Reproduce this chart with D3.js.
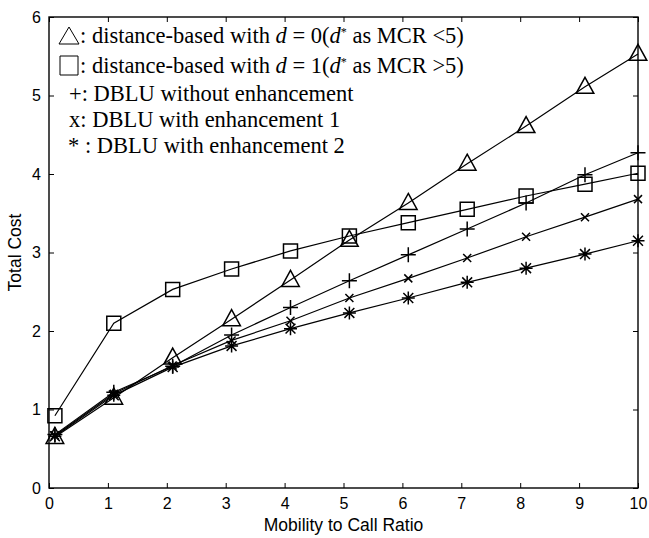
<!DOCTYPE html>
<html><head><meta charset="utf-8">
<script src="https://cdn.jsdelivr.net/npm/d3@7"></script>
<style>
body{margin:0;background:#fff;}
svg{display:block;}
</style>
</head><body>
<svg id="chart" width="649" height="538"></svg>
<script>
// ---- data ----
const xValues = [0.1, 1.1, 2.1, 3.1, 4.1, 5.1, 6.1, 7.1, 8.1, 9.1, 10];
const distanceD0 = [0.65, 1.15, 1.66, 2.15, 2.65, 3.16, 3.63, 4.13, 4.61, 5.11, 5.53];
const distanceD1 = [0.92, 2.10, 2.53, 2.79, 3.02, 3.21, 3.38, 3.55, 3.72, 3.87, 4.01];
const dbluNoEnh = [0.68, 1.22, 1.55, 1.95, 2.30, 2.64, 2.97, 3.30, 3.63, 3.99, 4.27];
const dbluEnh1 = [0.67, 1.20, 1.56, 1.88, 2.13, 2.42, 2.67, 2.93, 3.20, 3.45, 3.68];
const dbluEnh2 = [0.66, 1.18, 1.54, 1.81, 2.03, 2.23, 2.42, 2.62, 2.80, 2.98, 3.15];
const xTicks = [0,1,2,3,4,5,6,7,8,9,10];
const yTicks = [0,1,2,3,4,5,6];
const xLabel = "Mobility to Call Ratio";
const yLabel = "Total Cost";

const SANS = "'Liberation Sans', Arial, Helvetica, sans-serif";
const SERIF = "'Liberation Serif', 'Times New Roman', serif";

const svg = d3.select("#chart");
const pL = 49, pR = 638, pT = 17, pB = 488;
const x = d3.scaleLinear().domain([0,10]).range([pL,pR]);
const y = d3.scaleLinear().domain([0,6]).range([pB,pT]);

// frame
svg.append("rect").attr("x",pL).attr("y",pT).attr("width",pR-pL).attr("height",pB-pT)
  .attr("fill","none").attr("stroke","#000").attr("stroke-width",1.4);

// axes (ticks inward)
const axB = svg.append("g").attr("transform",`translate(0,${pB})`)
  .call(d3.axisBottom(x).tickValues(xTicks).tickSize(-5).tickPadding(10).tickFormat(d3.format("d")));
const axT = svg.append("g").attr("transform",`translate(0,${pT})`)
  .call(d3.axisTop(x).tickValues(xTicks).tickSize(-5).tickFormat(""));
const axL = svg.append("g").attr("transform",`translate(${pL},0)`)
  .call(d3.axisLeft(y).tickValues(yTicks).tickSize(-5).tickPadding(8).tickFormat(d3.format("d")));
const axR = svg.append("g").attr("transform",`translate(${pR},0)`)
  .call(d3.axisRight(y).tickValues(yTicks).tickSize(-5).tickFormat(""));
[axB,axT,axL,axR].forEach(a=>{
  a.select(".domain").remove();
  a.attr("font-size",16).attr("font-family",SANS);
  a.selectAll(".tick line").attr("stroke","#000").attr("stroke-width",1);
  a.selectAll(".tick text").attr("fill","#000");
});

// axis titles
svg.append("text").attr("x",(pL+pR)/2).attr("y",531)
  .attr("font-family",SANS).attr("font-size",17.5)
  .attr("text-anchor","middle").text(xLabel);
svg.append("text")
  .attr("font-family",SANS).attr("font-size",17.5)
  .attr("transform",`translate(21,${(pT+pB)/2}) rotate(-90)`)
  .attr("text-anchor","middle").text(yLabel);

// marker shapes
const markers = {
  triangle: (s)=>`M0,${-s*0.6}L${s*0.55},${s*0.4}L${-s*0.55},${s*0.4}Z`,
  square: (s)=>`M${-s/2},${-s/2}h${s}v${s}h${-s}Z`,
  plus: (s)=>`M${-s/2},0H${s/2}M0,${-s/2}V${s/2}`,
  cross: (s)=>`M${-s/2},${-s/2}L${s/2},${s/2}M${-s/2},${s/2}L${s/2},${-s/2}`,
  star: (s)=>`M${-s/2},0H${s/2}M0,${-s/2}V${s/2}M${-s*0.38},${-s*0.38}L${s*0.38},${s*0.38}M${-s*0.38},${s*0.38}L${s*0.38},${-s*0.38}`
};
const series = [
  {vals: distanceD0, marker:"triangle", size:16},
  {vals: distanceD1, marker:"square", size:14},
  {vals: dbluNoEnh, marker:"plus", size:15},
  {vals: dbluEnh1, marker:"cross", size:8},
  {vals: dbluEnh2, marker:"star", size:13}
];
const line = d3.line().x((d,i)=>x(xValues[i])).y(d=>y(d));
series.forEach(s=>{
  svg.append("path").attr("d",line(s.vals)).attr("fill","none").attr("stroke","#000").attr("stroke-width",1.2);
  svg.append("g").selectAll("path").data(s.vals).join("path")
    .attr("transform",(d,i)=>`translate(${x(xValues[i])},${y(d)})`)
    .attr("d",markers[s.marker](s.size))
    .attr("fill","none").attr("stroke","#000").attr("stroke-width",1.5);
});

// legend
const lg = svg.append("g");
lg.append("path").attr("d",`M69,27L79,44L59,44Z`).attr("fill","none").attr("stroke","#000").attr("stroke-width",1);
lg.append("path").attr("d",`M60,56h18v19h-18Z`).attr("fill","none").attr("stroke","#000").attr("stroke-width",1);
function legendLine(xp, yp, parts){
  const t = lg.append("text").attr("x",xp).attr("y",yp)
    .attr("font-family",SERIF).attr("font-size",22.5).attr("fill","#000");
  parts.forEach(p=>{
    const ts = t.append("tspan").text(p.t);
    if(p.i) ts.attr("font-style","italic");
    if(p.sup) ts.attr("baseline-shift","super").attr("font-size","12px");
  });
}
legendLine(80,43,[{t:": distance-based with "},{t:"d",i:1},{t:" = 0("},{t:"d",i:1},{t:"*",sup:1},{t:" as MCR <5)"}]);
legendLine(80,73,[{t:": distance-based with "},{t:"d",i:1},{t:" = 1("},{t:"d",i:1},{t:"*",sup:1},{t:" as MCR >5)"}]);
legendLine(69,101,[{t:"+: DBLU without enhancement"}]);
legendLine(69,127,[{t:"x: DBLU with enhancement 1"}]);
legendLine(68,153,[{t:"* : DBLU with enhancement 2"}]);
</script>
</body></html>
